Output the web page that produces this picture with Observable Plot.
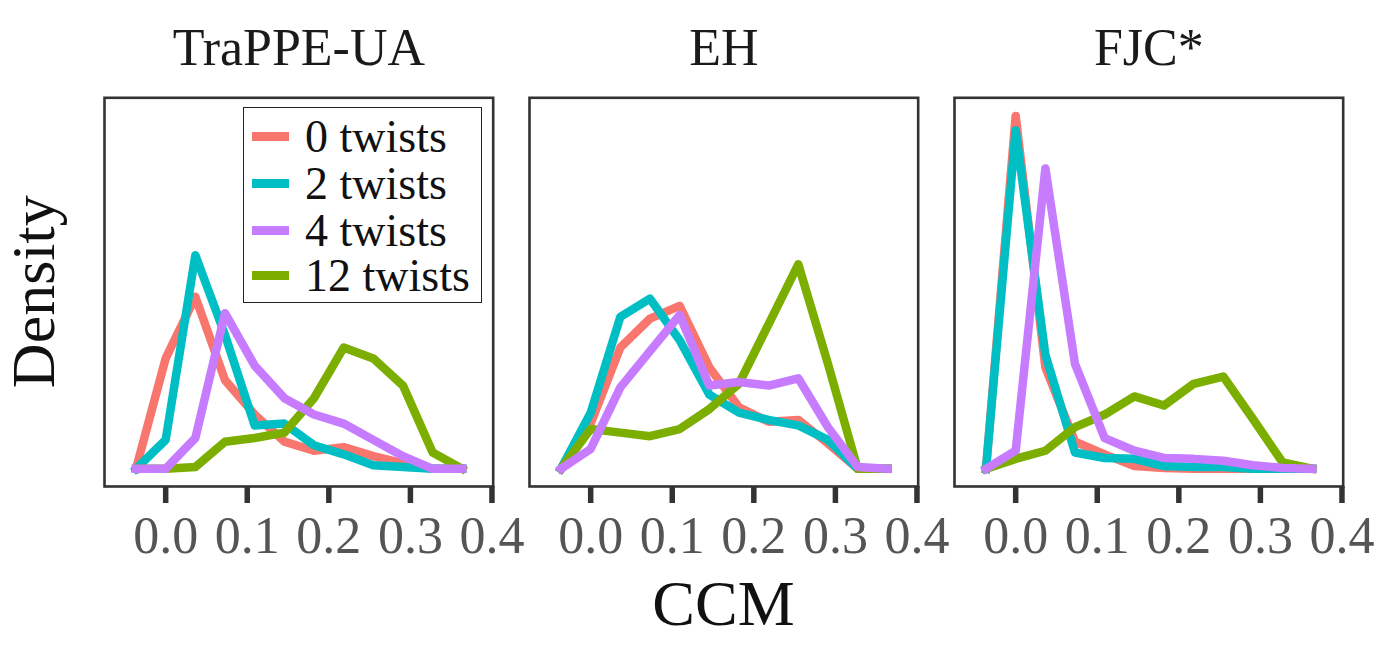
<!DOCTYPE html>
<html><head><meta charset="utf-8">
<script src="https://cdn.jsdelivr.net/npm/d3@7"></script>
<script src="https://cdn.jsdelivr.net/npm/@observablehq/plot@0.6"></script>
<style>
body{margin:0;background:#fff;}
#chart{position:relative;width:1378px;height:652px;background:#fff;overflow:hidden;font-family:"Liberation Serif","Times New Roman",serif;}
.panel{position:absolute;top:0;}
#legend{position:absolute;left:243px;top:107px;width:237px;height:194px;border:1.6px solid #222;background:#fff;}
.lrow{position:absolute;left:0;height:44px;width:235px;}
.lsw{position:absolute;left:8px;top:17px;width:37px;height:9px;}
.ltx{position:absolute;left:61px;top:0;font-size:46px;line-height:44px;color:#111;white-space:nowrap;}
</style></head><body><div id="chart"></div>
<script>
// ---- data ----
const panels = ["TraPPE-UA", "EH", "FJC*"];
const series = ["0 twists", "2 twists", "4 twists", "12 twists"];
const colors = ["#F8766D", "#00BFC4", "#C77CFF", "#7CAE00"];
const ccm = [-0.0364, 0, 0.0364, 0.0727, 0.1091, 0.1455, 0.1818, 0.2182, 0.2545, 0.2909, 0.3273, 0.3636];
const xTicks = [0, 0.1, 0.2, 0.3, 0.4];

const trappe0  = [0, 6.1, 9.5, 4.9, 3.0, 1.5, 1.0, 1.2, 0.7, 0.3, 0, 0];
const trappe2  = [0, 1.6, 11.8, 7.4, 2.4, 2.5, 1.3, 0.8, 0.2, 0.1, 0, 0];
const trappe4  = [0, 0, 1.7, 8.6, 5.7, 3.9, 3.0, 2.5, 1.6, 0.7, 0, 0];
const trappe12 = [0, 0, 0.1, 1.5, 1.7, 2.0, 3.9, 6.7, 6.1, 4.6, 0.9, 0];

const eh0  = [0, 2.5, 6.7, 8.3, 9.0, 5.6, 3.4, 2.6, 2.7, 1.4, 0, 0];
const eh2  = [0, 3.1, 8.4, 9.4, 7.1, 4.1, 3.1, 2.7, 2.4, 1.6, 0, 0];
const eh4  = [0, 1.1, 4.5, 6.5, 8.5, 4.6, 4.8, 4.6, 5.0, 2.3, 0.1, 0];
const eh12 = [0, 2.2, 2.0, 1.8, 2.2, 3.3, 4.7, 8.0, 11.3, 5.8, 0, 0];

const fjc0  = [0, 19.5, 5.6, 1.5, 0.8, 0.15, 0.05, 0, 0, 0, 0, 0];
const fjc2  = [0, 18.7, 6.3, 0.9, 0.6, 0.55, 0.15, 0.1, 0.1, 0, 0, 0];
const fjc4  = [0, 1.0, 16.6, 5.8, 1.7, 1.0, 0.6, 0.55, 0.45, 0.2, 0.05, 0];
const fjc12 = [0, 0.55, 1.0, 2.3, 3.0, 4.0, 3.5, 4.7, 5.1, 2.75, 0.35, 0];

const panelSeries = [
  [trappe0, trappe2, trappe4, trappe12],
  [eh0, eh2, eh4, eh12],
  [fjc0, fjc2, fjc4, fjc12]
];
const drawOrder = [0, 1, 3, 2];

// ---- layout ----
const chart = document.getElementById("chart");
const frameLefts = [104, 529, 954];
const frameW = 388.7, frameTop = 97.3, frameBottom = 486;
const mL = 40, mR = 40, mB = 80;

panels.forEach((name, p) => {
  const rows = [];
  drawOrder.forEach(s => {
    panelSeries[p][s].forEach((v, i) => rows.push({ccm: ccm[i], density: v, series: series[s]}));
  });
  const svg = Plot.plot({
    width: mL + frameW + mR,
    height: frameBottom + mB,
    marginLeft: mL, marginRight: mR, marginTop: frameTop, marginBottom: mB,
    style: {background: "transparent", overflow: "visible", maxWidth: "none", fontFamily: "'Liberation Serif', 'Times New Roman', serif"},
    x: {domain: [-0.075, 0.4015]},
    y: {domain: [-0.976, 20.5], axis: null},
    color: {domain: series, range: colors},
    marks: [
      Plot.line(rows, {x: "ccm", y: "density", z: "series", stroke: "series", strokeWidth: 8.5, strokeLinejoin: "round", strokeLinecap: "square"}),
      Plot.frame({stroke: "#333", strokeWidth: 2.6}),
      Plot.axisX({ticks: xTicks, tickSize: 17, tickPadding: 13, tickFormat: d3.format(".1f"), stroke: "#333", strokeWidth: 5.5, fill: "#555", fontSize: 52, label: null}),
      Plot.text([name], {text: d => d, frameAnchor: "top", dy: -49, lineAnchor: "middle", fontSize: 52, fill: "#1a1a1a"})
    ]
  });
  const div = document.createElement("div");
  div.className = "panel";
  div.style.left = (frameLefts[p] - mL) + "px";
  div.appendChild(svg);
  chart.appendChild(div);
});

// axis titles
const ns = "http://www.w3.org/2000/svg";
const ov = document.createElementNS(ns, "svg");
ov.setAttribute("width", 1378); ov.setAttribute("height", 652);
ov.style.position = "absolute"; ov.style.left = "0"; ov.style.top = "0"; ov.style.pointerEvents = "none";
function addText(txt, x, y, size, rot) {
  const t = document.createElementNS(ns, "text");
  t.textContent = txt;
  t.setAttribute("x", x); t.setAttribute("y", y);
  t.setAttribute("text-anchor", "middle");
  t.setAttribute("font-size", size);
  t.setAttribute("font-family", "'Liberation Serif', 'Times New Roman', serif");
  t.setAttribute("fill", "#111");
  if (rot) t.setAttribute("transform", `rotate(${rot} ${x} ${y})`);
  ov.appendChild(t);
}
addText("Density", 54, 291.7, 62, -90);
addText("CCM", 723.4, 625, 64, 0);
chart.appendChild(ov);

// legend
const leg = document.createElement("div");
leg.id = "legend";
const rowTops = [7, 54, 101, 146];
series.forEach((s, i) => {
  const r = document.createElement("div");
  r.className = "lrow"; r.style.top = rowTops[i] + "px";
  const sw = document.createElement("div");
  sw.className = "lsw"; sw.style.background = colors[i];
  const tx = document.createElement("div");
  tx.className = "ltx"; tx.textContent = s;
  r.appendChild(sw); r.appendChild(tx);
  leg.appendChild(r);
});
chart.appendChild(leg);
</script></body></html>
